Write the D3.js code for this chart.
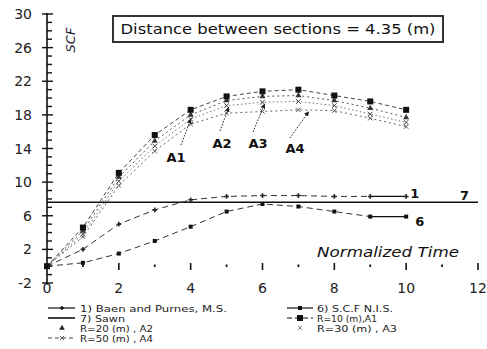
<!DOCTYPE html>
<html><head><meta charset="utf-8">
<script src="https://cdn.jsdelivr.net/npm/d3@7"></script>
<style>body{margin:0;background:#fff}svg{display:block}text{font-family:"DejaVu Sans",Arial,sans-serif}</style>
</head><body>
<svg id="c" width="487" height="349"></svg>
<script>
const times = [0,1,2,3,4,5,6,7,8,9,10];
const seriesA1 = [0,4.6,11.1,15.6,18.6,20.2,20.8,21.0,20.3,19.6,18.6];
const seriesA2 = [0,4.2,10.6,14.9,18.0,19.7,20.2,20.3,19.7,18.8,17.7];
const seriesA3 = [0,3.8,10.1,14.3,17.5,19.1,19.5,19.6,19.1,18.1,17.1];
const seriesA4 = [0,3.5,9.6,13.7,16.9,18.2,18.4,18.6,18.5,17.6,16.6];
const series1 = [0,2.0,5.0,6.7,7.9,8.3,8.4,8.4,8.3,8.3,8.3];
const series6 = [0,0.4,1.5,3.0,4.7,6.5,7.4,7.1,6.5,5.9,5.9];
const line7 = 7.6;
const yTicks = [-2,2,6,10,14,18,22,26,30];
const xTicks = [0,2,4,6,8,10,12];
const legendLeft = ["1) Baen and Purnes, M.S.","7) Sawn","R=20 (m) , A2","R=50 (m) , A4"];
const legendRight = ["6) S.C.F N.I.S.","R=10 (m),A1","R=30 (m) , A3"];
const annLabels = ["A1","A2","A3","A4"];
const title = "Distance between sections = 4.35 (m)";

const svg = d3.select("#c");
const x = d3.scaleLinear().domain([0,12]).range([47,478]);
const y = d3.scaleLinear().domain([-2,30]).range([283,14]);

// y axis
svg.append("line").attr("x1",47).attr("x2",47).attr("y1",y(30)-1).attr("y2",y(-2.2)).attr("stroke","#111").attr("stroke-width",1.6);
d3.range(-2,31,1).forEach(v=>{
  const major = yTicks.includes(v);
  svg.append("line").attr("x1", major?42:47).attr("x2", major?53:52).attr("y1",y(v)).attr("y2",y(v)).attr("stroke","#111").attr("stroke-width",1.4);
});
yTicks.forEach(v=>{
  svg.append("text").attr("x",32).attr("y",y(v)+5).attr("text-anchor","end").attr("font-size",14).attr("fill","#222").text(v);
});
// x ticks
d3.range(0,13,1).forEach(v=>{
  const major = xTicks.includes(v);
  if(v===0) return;
  svg.append("line").attr("x1",x(v)).attr("x2",x(v)).attr("y1",major?263:264.5).attr("y2",major?270:267).attr("stroke","#111").attr("stroke-width",major?1.6:1.8);
});
xTicks.forEach(v=>{
  svg.append("text").attr("x",x(v)).attr("y",293).attr("text-anchor","middle").attr("font-size",14).attr("fill","#222").text(v);
});

// SCF label
svg.append("text").attr("transform","translate(75,40) rotate(-90)").attr("text-anchor","middle").attr("font-size",13).attr("font-style","italic").attr("fill","#223").text("SCF");

// title box
svg.append("rect").attr("x",113).attr("y",16).attr("width",330).attr("height",26).attr("fill","#fff").attr("stroke","#333").attr("stroke-width",2);
svg.append("text").attr("x",278).attr("y",34).attr("text-anchor","middle").attr("font-size",14).attr("fill","#111")
  .attr("textLength",315).attr("lengthAdjust","spacingAndGlyphs").text(title);

// normalized time
svg.append("text").attr("x",388).attr("y",257).attr("text-anchor","middle").attr("font-size",14).attr("font-style","italic").attr("fill","#111")
  .attr("textLength",142).attr("lengthAdjust","spacingAndGlyphs").text("Normalized Time");

// line 7
svg.append("line").attr("x1",x(0)).attr("x2",x(12)).attr("y1",y(line7)).attr("y2",y(line7)).attr("stroke","#111").attr("stroke-width",1.6);

const lineGen = d3.line().x((d,i)=>x(times[i])).y(d=>y(d));
const pts = arr => arr.map((v,i)=>[times[i],v]);

function drawLine(arr, color, dash, w){
  svg.append("path").attr("d",lineGen(arr)).attr("fill","none").attr("stroke",color).attr("stroke-width",w).attr("stroke-dasharray",dash);
}
// upper curves
drawLine(seriesA4,"#666","2,3",1);
drawLine(seriesA3,"#777","1.5,2.5",1);
drawLine(seriesA2,"#555","2,3",1);
drawLine(seriesA1,"#444","4,3",1);

// series 1 and 6 dashed with solid last segment
function drawSplit(arr){
  const n = arr.length;
  svg.append("path").attr("d",lineGen(arr.slice(0,n-1))).attr("fill","none").attr("stroke","#333").attr("stroke-width",1).attr("stroke-dasharray","6,4");
  svg.append("line").attr("x1",x(times[n-2])).attr("x2",x(times[n-1])).attr("y1",y(arr[n-2])).attr("y2",y(arr[n-1])).attr("stroke","#111").attr("stroke-width",1.3);
}
drawSplit(series1);
drawSplit(series6);

// markers
function squares(arr,s,color){
  svg.selectAll(null).data(pts(arr)).enter().append("rect").attr("x",d=>x(d[0])-s/2).attr("y",d=>y(d[1])-s/2).attr("width",s).attr("height",s).attr("fill",color);
}
function tris(arr,s,color){
  svg.selectAll(null).data(pts(arr)).enter().append("path").attr("transform",d=>`translate(${x(d[0])},${y(d[1])})`)
    .attr("d",d3.symbol().type(d3.symbolTriangle).size(s)).attr("fill",color);
}
function crosses(arr,s,color){
  svg.selectAll(null).data(pts(arr)).enter().append("path").attr("transform",d=>`translate(${x(d[0])},${y(d[1])})`)
    .attr("d",d3.symbol().type(d3.symbolX).size(s)).attr("fill","none").attr("stroke",color).attr("stroke-width",1);
}
function pluses(arr,s,color){
  svg.selectAll(null).data(pts(arr)).enter().append("path").attr("transform",d=>`translate(${x(d[0])},${y(d[1])})`)
    .attr("d",d3.symbol().type(d3.symbolCross).size(s)).attr("fill",color);
}
crosses(seriesA4,14,"#555");
crosses(seriesA3,16,"#444");
tris(seriesA2,16,"#333");
squares(seriesA1,6,"#111");
pluses(series1,12,"#222");
squares(series6,4,"#111");

// end labels
svg.append("text").attr("x",x(10)+4).attr("y",y(series1[10])+2).attr("font-size",13).attr("font-weight","bold").attr("fill","#111").text("1");
svg.append("text").attr("x",x(10)+9).attr("y",y(series6[10])+9).attr("font-size",13).attr("font-weight","bold").attr("fill","#111").text("6");
svg.append("text").attr("x",x(11.5)).attr("y",y(line7)-2).attr("font-size",13).attr("font-weight","bold").attr("fill","#111").text("7");

// annotations
svg.append("defs").append("marker").attr("id","ah").attr("viewBox","0 0 6 6").attr("refX",5).attr("refY",3).attr("markerWidth",5).attr("markerHeight",5).attr("orient","auto")
  .append("path").attr("d","M0,0L6,3L0,6Z").attr("fill","#222");
const annPos = [[176,162,[181,145],[4,seriesA2[4]-0.3]],[222,148,[220,131],[5,seriesA3[5]]],[258,148,[253,132],[6,seriesA3[6]]],[295,153,[290,138],[7,seriesA4[7]]]];
annLabels.forEach((t,i)=>{
  const p = annPos[i];
  svg.append("line").attr("x1",p[2][0]).attr("y1",p[2][1]).attr("x2",x(p[3][0])+(i===0?0:(i===3?10:2))).attr("y2",y(p[3][1])+2)
    .attr("stroke","#222").attr("stroke-width",1).attr("stroke-dasharray","1.5,1.5").attr("marker-end","url(#ah)");
  svg.append("text").attr("x",p[0]).attr("y",p[1]).attr("text-anchor","middle").attr("font-size",13).attr("font-weight","bold").attr("fill","#111").text(t);
});

// legend
const lg = svg.append("g").attr("font-size",8).attr("fill","#222");
const rowsY = [308,318,328,338];
const leftW = [147,45,73,73];
const rightW = [76,60,80];
// left column
lg.append("line").attr("x1",48).attr("x2",75).attr("y1",rowsY[0]).attr("y2",rowsY[0]).attr("stroke","#111").attr("stroke-width",1.2);
lg.append("path").attr("transform",`translate(62,${rowsY[0]})`).attr("d",d3.symbol().type(d3.symbolCross).size(10)).attr("fill","#111");
lg.append("line").attr("x1",48).attr("x2",75).attr("y1",rowsY[1]).attr("y2",rowsY[1]).attr("stroke","#111").attr("stroke-width",1.6);
lg.append("path").attr("transform",`translate(62,${rowsY[2]})`).attr("d",d3.symbol().type(d3.symbolTriangle).size(14)).attr("fill","#222");
lg.append("line").attr("x1",48).attr("x2",75).attr("y1",rowsY[3]).attr("y2",rowsY[3]).attr("stroke","#444").attr("stroke-width",1).attr("stroke-dasharray","4,3");
lg.append("path").attr("transform",`translate(62,${rowsY[3]})`).attr("d",d3.symbol().type(d3.symbolX).size(12)).attr("fill","none").attr("stroke","#555");
legendLeft.forEach((t,i)=>lg.append("text").attr("x",80).attr("y",rowsY[i]+3.5).attr("textLength",leftW[i]).attr("lengthAdjust","spacingAndGlyphs").text(t));
// right column
lg.append("line").attr("x1",287).attr("x2",313).attr("y1",rowsY[0]).attr("y2",rowsY[0]).attr("stroke","#111").attr("stroke-width",1.2);
lg.append("rect").attr("x",298).attr("y",rowsY[0]-2).attr("width",4).attr("height",4).attr("fill","#111");
lg.append("line").attr("x1",287).attr("x2",313).attr("y1",rowsY[1]).attr("y2",rowsY[1]).attr("stroke","#111").attr("stroke-width",1.2).attr("stroke-dasharray","5,3");
lg.append("rect").attr("x",297).attr("y",rowsY[1]-3).attr("width",6).attr("height",6).attr("fill","#111");
lg.append("path").attr("transform",`translate(300,${rowsY[2]})`).attr("d",d3.symbol().type(d3.symbolX).size(10)).attr("fill","none").attr("stroke","#777");
legendRight.forEach((t,i)=>lg.append("text").attr("x",317).attr("y",rowsY[i]+3.5).attr("textLength",rightW[i]).attr("lengthAdjust","spacingAndGlyphs").text(t));
</script>
</body></html>
